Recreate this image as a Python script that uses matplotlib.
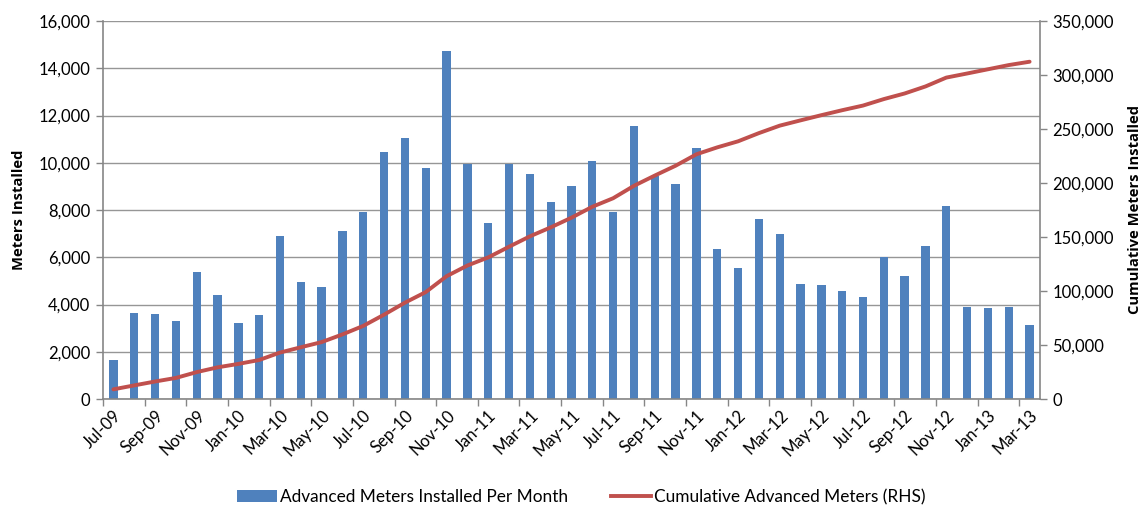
import matplotlib
matplotlib.use("Agg")
import matplotlib.pyplot as plt
from matplotlib.ticker import FuncFormatter, MultipleLocator
from matplotlib.lines import Line2D
from matplotlib.patches import Patch

months = [
    "Jul-09", "Aug-09", "Sep-09", "Oct-09", "Nov-09", "Dec-09",
    "Jan-10", "Feb-10", "Mar-10", "Apr-10", "May-10", "Jun-10",
    "Jul-10", "Aug-10", "Sep-10", "Oct-10", "Nov-10", "Dec-10",
    "Jan-11", "Feb-11", "Mar-11", "Apr-11", "May-11", "Jun-11",
    "Jul-11", "Aug-11", "Sep-11", "Oct-11", "Nov-11", "Dec-11",
    "Jan-12", "Feb-12", "Mar-12", "Apr-12", "May-12", "Jun-12",
    "Jul-12", "Aug-12", "Sep-12", "Oct-12", "Nov-12", "Dec-12",
    "Jan-13", "Feb-13", "Mar-13",
]

monthly_installed = [
    1650, 3650, 3600, 3320, 5360, 4400,
    3200, 3570, 6900, 4970, 4740, 7110,
    7900, 10460, 11050, 9790, 14730, 9930,
    7460, 9930, 9520, 8330, 9020, 10060,
    7920, 11570, 9450, 9100, 10640, 6360,
    5560, 7620, 6970, 4870, 4830, 4570,
    4320, 6000, 5210, 6480, 8170, 3880,
    3840, 3890, 3120,
]

cumulative_installed = [
    8950, 12600, 16200, 19500, 24900, 29300,
    32500, 36100, 43000, 47900, 52700, 59800,
    67700, 78100, 89200, 99000, 113700, 123600,
    131100, 141000, 150600, 158900, 167900, 178000,
    185900, 197400, 206900, 216000, 226600, 233000,
    238600, 246200, 253100, 258000, 262800, 267400,
    271700, 277700, 282900, 289400, 297600, 301400,
    305300, 309200, 312300,
]

bar_color = "#4F81BD"
line_color = "#C0504D"
grid_color = "#969696"
axis_color = "#868686"

plt.rcParams["font.family"] = ["Lato", "DejaVu Sans"]
label_font = ["Open Sans", "DejaVu Sans"]

fig = plt.figure(figsize=(11.45, 5.05), dpi=100)
ax = fig.add_axes([103 / 1145, 1 - 399 / 505, (1040 - 103) / 1145, (399 - 21) / 505])
ax2 = ax.twinx()

x = list(range(len(months)))
ax.bar(x, monthly_installed, width=0.4, color=bar_color, zorder=2)
ax2.plot(x, cumulative_installed, color=line_color, lw=2.8, zorder=3,
         solid_capstyle="round", solid_joinstyle="round")

ax.set_xlim(-0.5, len(months) - 0.5)
ax.set_ylim(0, 16000)
ax2.set_ylim(0, 350000)
ax.yaxis.set_major_locator(MultipleLocator(2000))
ax2.yaxis.set_major_locator(MultipleLocator(50000))

fmt = FuncFormatter(lambda v, p: f"{int(v):,}")
ax.yaxis.set_major_formatter(fmt)
ax2.yaxis.set_major_formatter(fmt)

ax.grid(axis="y", color=grid_color, lw=1.0, zorder=0)
ax.set_axisbelow(True)

# category labels every second month, tick marks on category boundaries
label_pos = x[::2]
ax.set_xticks(label_pos)
ax.set_xticklabels(months[::2], rotation=45, ha="right", rotation_mode="anchor")
ax.set_xticks([i - 0.5 for i in range(0, len(months) + 1, 2)], minor=True)
ax.tick_params(axis="x", which="major", length=0, pad=6, labelsize=12, colors="black")
ax.tick_params(axis="x", which="minor", length=5, color=axis_color, width=1)

ax.tick_params(axis="y", length=5, color=axis_color, width=1, labelsize=12, pad=4)
ax2.tick_params(axis="y", length=5, color=axis_color, width=1, labelsize=12, pad=4)

for a in (ax, ax2):
    for s in a.spines.values():
        s.set_visible(False)
ax.spines["left"].set_visible(True)
ax.spines["left"].set_color(axis_color)
ax.spines["bottom"].set_visible(True)
ax.spines["bottom"].set_color(axis_color)
ax2.spines["right"].set_visible(True)
ax2.spines["right"].set_color(axis_color)
for s in ("left", "bottom"):
    ax.spines[s].set_linewidth(1.2)
ax2.spines["right"].set_linewidth(1.2)

ax.set_ylabel("Meters Installed", fontsize=10.6, fontweight="bold",
              family=label_font, labelpad=9)
ax2.set_ylabel("Cumulative Meters Installed", fontsize=10.6, fontweight="bold",
               family=label_font, labelpad=10)

handles = [
    Patch(facecolor=bar_color, edgecolor="none", label="Advanced Meters Installed Per Month"),
    Line2D([0], [0], color=line_color, lw=2.8, label="Cumulative Advanced Meters (RHS)"),
]
fig.legend(handles=handles, loc="center", bbox_to_anchor=(0.5 + 9 / 1145, 1 - 497 / 505),
           ncol=2, frameon=False, fontsize=12.4, handlelength=2.3,
           handleheight=0.7, columnspacing=2.5, handletextpad=0.2)

fig.savefig("out.png", dpi=100)
